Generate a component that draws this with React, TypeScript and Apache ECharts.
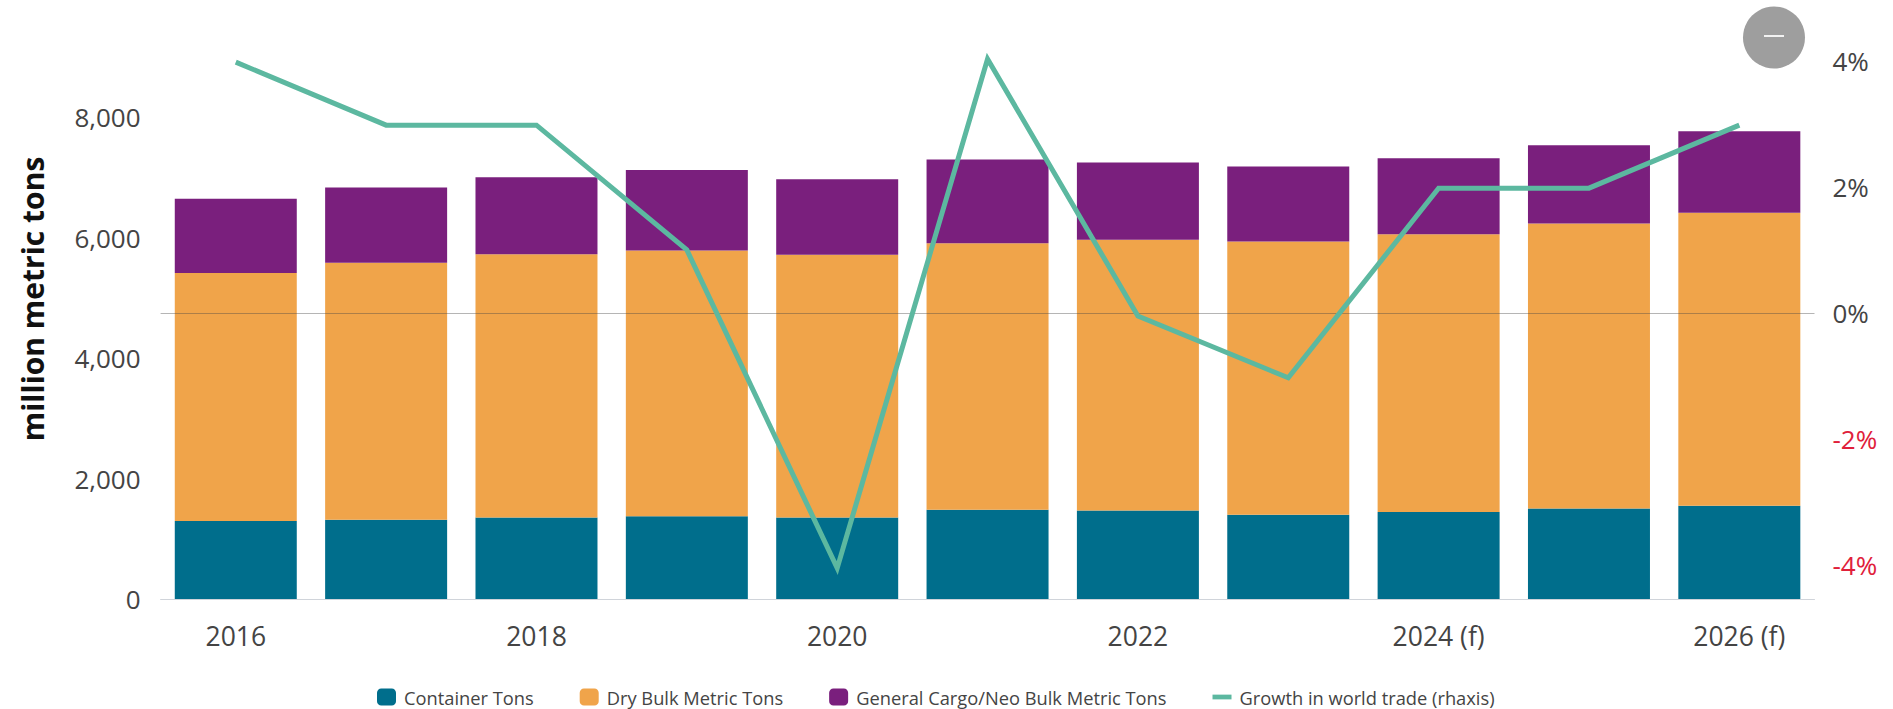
import React, { useEffect, useRef } from "react";
import * as echarts from "echarts";

const years = ["2016", "2017", "2018", "2019", "2020", "2021", "2022", "2023", "2024 (f)", "2025 (f)", "2026 (f)"];
const container = [1294, 1315, 1355, 1375, 1354, 1484, 1470, 1400, 1445, 1505, 1551];
const dryBulk = [4122, 4272, 4370, 4416, 4363, 4424, 4498, 4540, 4615, 4731, 4866];
const generalCargo = [1232, 1249, 1280, 1337, 1254, 1394, 1284, 1244, 1262, 1302, 1354];
const growth = [3.98, 2.98, 2.98, 1, -4.05, 4.03, -0.05, -1.03, 1.98, 1.98, 2.98];
const leftTicks = [0, 2000, 4000, 6000, 8000];
const rightTicks = [-4, -2, 0, 2, 4];
const FONT = "'Open Sans', sans-serif";

export default function App() {
  const ref = useRef<HTMLDivElement>(null);
  useEffect(() => {
    const chart = echarts.init(ref.current!, null, { renderer: "svg" });
    const bar = (name: string, data: number[], color: string) => ({
      name,
      type: "bar",
      stack: "tons",
      barWidth: 122,
      data,
      itemStyle: { color },
    });
    chart.setOption({
      animation: false,
      backgroundColor: "#fff",
      grid: { left: 160.6, right: 78.5, top: 30, bottom: 110 },
      legend: {
        left: 377,
        top: 688,
        padding: 0,
        itemWidth: 19,
        itemHeight: 17,
        itemGap: 46,
        textStyle: { fontFamily: FONT, fontSize: 18.3, color: "#444", padding: [0, 0, 0, 3] },
        data: [
          { name: "Container Tons", icon: "roundRect" },
          { name: "Dry Bulk Metric Tons", icon: "roundRect" },
          { name: "General Cargo/Neo Bulk Metric Tons", icon: "roundRect" },
          { name: "Growth in world trade (rhaxis)", icon: "path://M0 0H20V5H0Z" },
        ],
      },
      xAxis: {
        type: "category",
        data: years,
        axisTick: { show: false },
        axisLine: { lineStyle: { color: "#d0d4da", width: 1 } },
        axisLabel: { interval: 1, fontFamily: FONT, fontSize: 26.5, color: "#444", margin: 23 },
      },
      yAxis: [
        {
          type: "value",
          min: 0,
          max: 9452,
          splitLine: { show: false },
          axisLine: { show: false },
          axisTick: { show: false },
          axisLabel: {
            customValues: leftTicks,
            margin: 20,
            fontFamily: FONT,
            fontSize: 26,
            color: "#444",
            formatter: (v: number) => v.toLocaleString("en-US"),
          },
        },
        {
          type: "value",
          min: -4.54,
          max: 4.49,
          position: "right",
          splitLine: { show: false },
          axisLine: { show: false },
          axisTick: { show: false },
          axisLabel: {
            customValues: rightTicks,
            margin: 18,
            align: "left",
            fontFamily: FONT,
            fontSize: 26,
            color: (v: number) => (v < 0 ? "#e0203a" : "#444"),
            formatter: (v: number) => `${v}%`,
          },
        },
      ],
      series: [
        bar("Container Tons", container, "#006e8c"),
        bar("Dry Bulk Metric Tons", dryBulk, "#f0a44a"),
        bar("General Cargo/Neo Bulk Metric Tons", generalCargo, "#7a1f7d"),
        {
          name: "Growth in world trade (rhaxis)",
          type: "line",
          yAxisIndex: 1,
          data: growth,
          showSymbol: false,
          symbol: "none",
          itemStyle: { color: "#5cb8a0" },
          lineStyle: { color: "#5cb8a0", width: 5, cap: "butt", join: "miter" },
          z: 5,
          markLine: {
            silent: true,
            symbol: "none",
            label: { show: false },
            lineStyle: { color: "rgba(70,70,70,0.4)", width: 1, type: "solid" },
            data: [{ yAxis: 0 }],
          },
        },
      ],
      graphic: [
        {
          type: "text",
          x: 32,
          y: 299,
          rotation: Math.PI / 2,
          style: {
            text: "million metric tons",
            fontFamily: FONT,
            fontSize: 30,
            fontWeight: "bold",
            fill: "#111",
            align: "center",
            verticalAlign: "middle",
          },
        },
        { type: "circle", shape: { cx: 1774, cy: 37.5, r: 31 }, style: { fill: "#9e9e9e" }, z: 20 },
        { type: "rect", shape: { x: 1764, y: 35, width: 20, height: 2 }, style: { fill: "#f2f2f2" }, z: 21 },
      ],
    });
    return () => chart.dispose();
  }, []);
  return <div ref={ref} style={{ position: "fixed", left: 0, top: 0, width: 1893, height: 709 }} />;
}
